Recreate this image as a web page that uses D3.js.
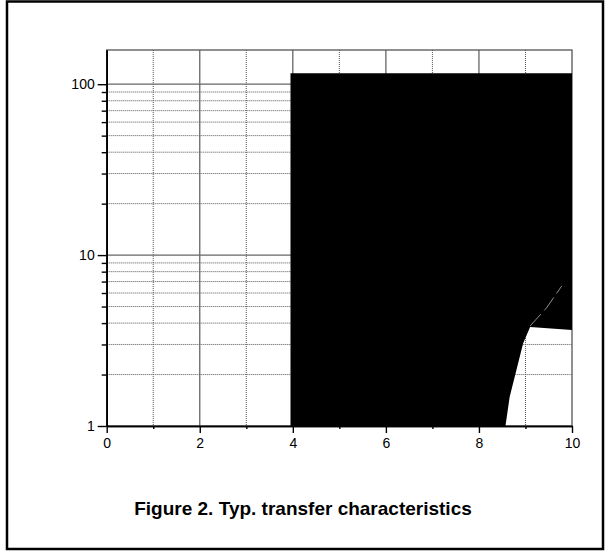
<!DOCTYPE html>
<html>
<head>
<meta charset="utf-8">
<script src="https://cdn.jsdelivr.net/npm/d3@7"></script>
<style>
  body { margin: 0; background: #fff; }
  text { font-family: Arial, "Liberation Sans", sans-serif; }
</style>
</head>
<body>
<svg id="chart"></svg>
<script>
// Tick values
const xTicks = [0, 2, 4, 6, 8, 10];
const xMinor = [1, 3, 5, 7, 9];
const yTicks = [1, 10, 100];
const yMinor = [2, 3, 4, 5, 6, 7, 8, 9, 20, 30, 40, 50, 60, 70, 80, 90];

// Filled region outline (Vgs, Id)
const fillX = [3.95, 10, 10, 9.1, 8.95, 8.66, 8.57, 3.95];
const fillY = [116, 116, 3.65, 3.8, 3.05, 1.48, 1, 1];

// Thin light gap inside the filled region
const gapX = [9.1, 9.45, 9.78];
const gapY = [3.85, 4.9, 6.6];

const captionText = 'Figure 2. Typ. transfer characteristics';

const W = 605, H = 551;
const plot = {left: 106.7, right: 572, top: 50, bottom: 426};

const svg = d3.select('#chart').attr('width', W).attr('height', H);

const x = d3.scaleLinear().domain([0, 10]).range([plot.left, plot.right]);
const y = d3.scaleLog().domain([1, 158.5]).range([plot.bottom, plot.top]);

// outer frame
svg.append('rect')
    .attr('x', 7).attr('y', 1.5)
    .attr('width', W - 9).attr('height', H - 3.5)
    .attr('fill', 'none').attr('stroke', '#000').attr('stroke-width', 2.5);

const g = svg.append('g');

// minor grid (dotted)
g.selectAll('.vminor').data(xMinor).join('line')
    .attr('x1', d => x(d)).attr('x2', d => x(d))
    .attr('y1', plot.top).attr('y2', plot.bottom)
    .attr('stroke', '#555').attr('stroke-width', 1).attr('stroke-dasharray', '1,1');
g.selectAll('.hminor').data(yMinor).join('line')
    .attr('x1', plot.left).attr('x2', plot.right)
    .attr('y1', d => y(d)).attr('y2', d => y(d))
    .attr('stroke', '#555').attr('stroke-width', 1).attr('stroke-dasharray', '1,1');

// major grid (solid grey)
g.selectAll('.vmajor').data(xTicks.slice(1, -1)).join('line')
    .attr('x1', d => x(d)).attr('x2', d => x(d))
    .attr('y1', plot.top).attr('y2', plot.bottom)
    .attr('stroke', '#666').attr('stroke-width', 1.3);
g.selectAll('.hmajor').data(yTicks.slice(1)).join('line')
    .attr('x1', plot.left).attr('x2', plot.right)
    .attr('y1', d => y(d)).attr('y2', d => y(d))
    .attr('stroke', '#666').attr('stroke-width', 1.3);

// plot border
g.append('rect')
    .attr('x', plot.left).attr('y', plot.top)
    .attr('width', plot.right - plot.left).attr('height', plot.bottom - plot.top)
    .attr('fill', 'none').attr('stroke', '#555').attr('stroke-width', 1.3);

// filled region
const pts = fillX.map((d, i) => [x(d), y(fillY[i])]);
g.append('path')
    .attr('d', d3.line()(pts) + 'Z')
    .attr('fill', '#000');

g.append('path')
    .attr('d', d3.line()(gapX.map((d, i) => [x(d), y(gapY[i])])))
    .attr('fill', 'none').attr('stroke', '#ccc').attr('stroke-width', 0.7)
    .attr('stroke-dasharray', '16,5');

// axes
const xAxis = d3.axisBottom(x).tickValues(xTicks).tickSize(7).tickPadding(5).tickSizeOuter(0);
const xAxisMinor = d3.axisBottom(x).tickValues(xMinor).tickSize(3).tickFormat('').tickSizeOuter(0);
const yAxis = d3.axisLeft(y).tickValues(yTicks).tickSize(9).tickPadding(3)
    .tickFormat(d3.format('d')).tickSizeOuter(0);
const yAxisMinor = d3.axisLeft(y).tickValues(yMinor).tickSize(5).tickFormat('').tickSizeOuter(0);

function styleAxis(sel) {
  sel.select('.domain').attr('stroke', '#000').attr('stroke-width', 1.6);
  sel.selectAll('.tick line').attr('stroke', '#000').attr('stroke-width', 1.4);
  sel.selectAll('text').attr('font-size', 14).attr('fill', '#000');
}

svg.append('g').attr('transform', `translate(0,${plot.bottom})`).call(xAxisMinor).call(styleAxis);
svg.append('g').attr('transform', `translate(0,${plot.bottom})`).call(xAxis).call(styleAxis);
svg.append('g').attr('transform', `translate(${plot.left},0)`).call(yAxisMinor).call(styleAxis);
svg.append('g').attr('transform', `translate(${plot.left},0)`).call(yAxis).call(styleAxis);

// caption
svg.append('text')
    .attr('x', 303).attr('y', 515)
    .attr('text-anchor', 'middle')
    .attr('font-size', 19).attr('font-weight', 'bold')
    .text(captionText);
</script>
</body>
</html>
